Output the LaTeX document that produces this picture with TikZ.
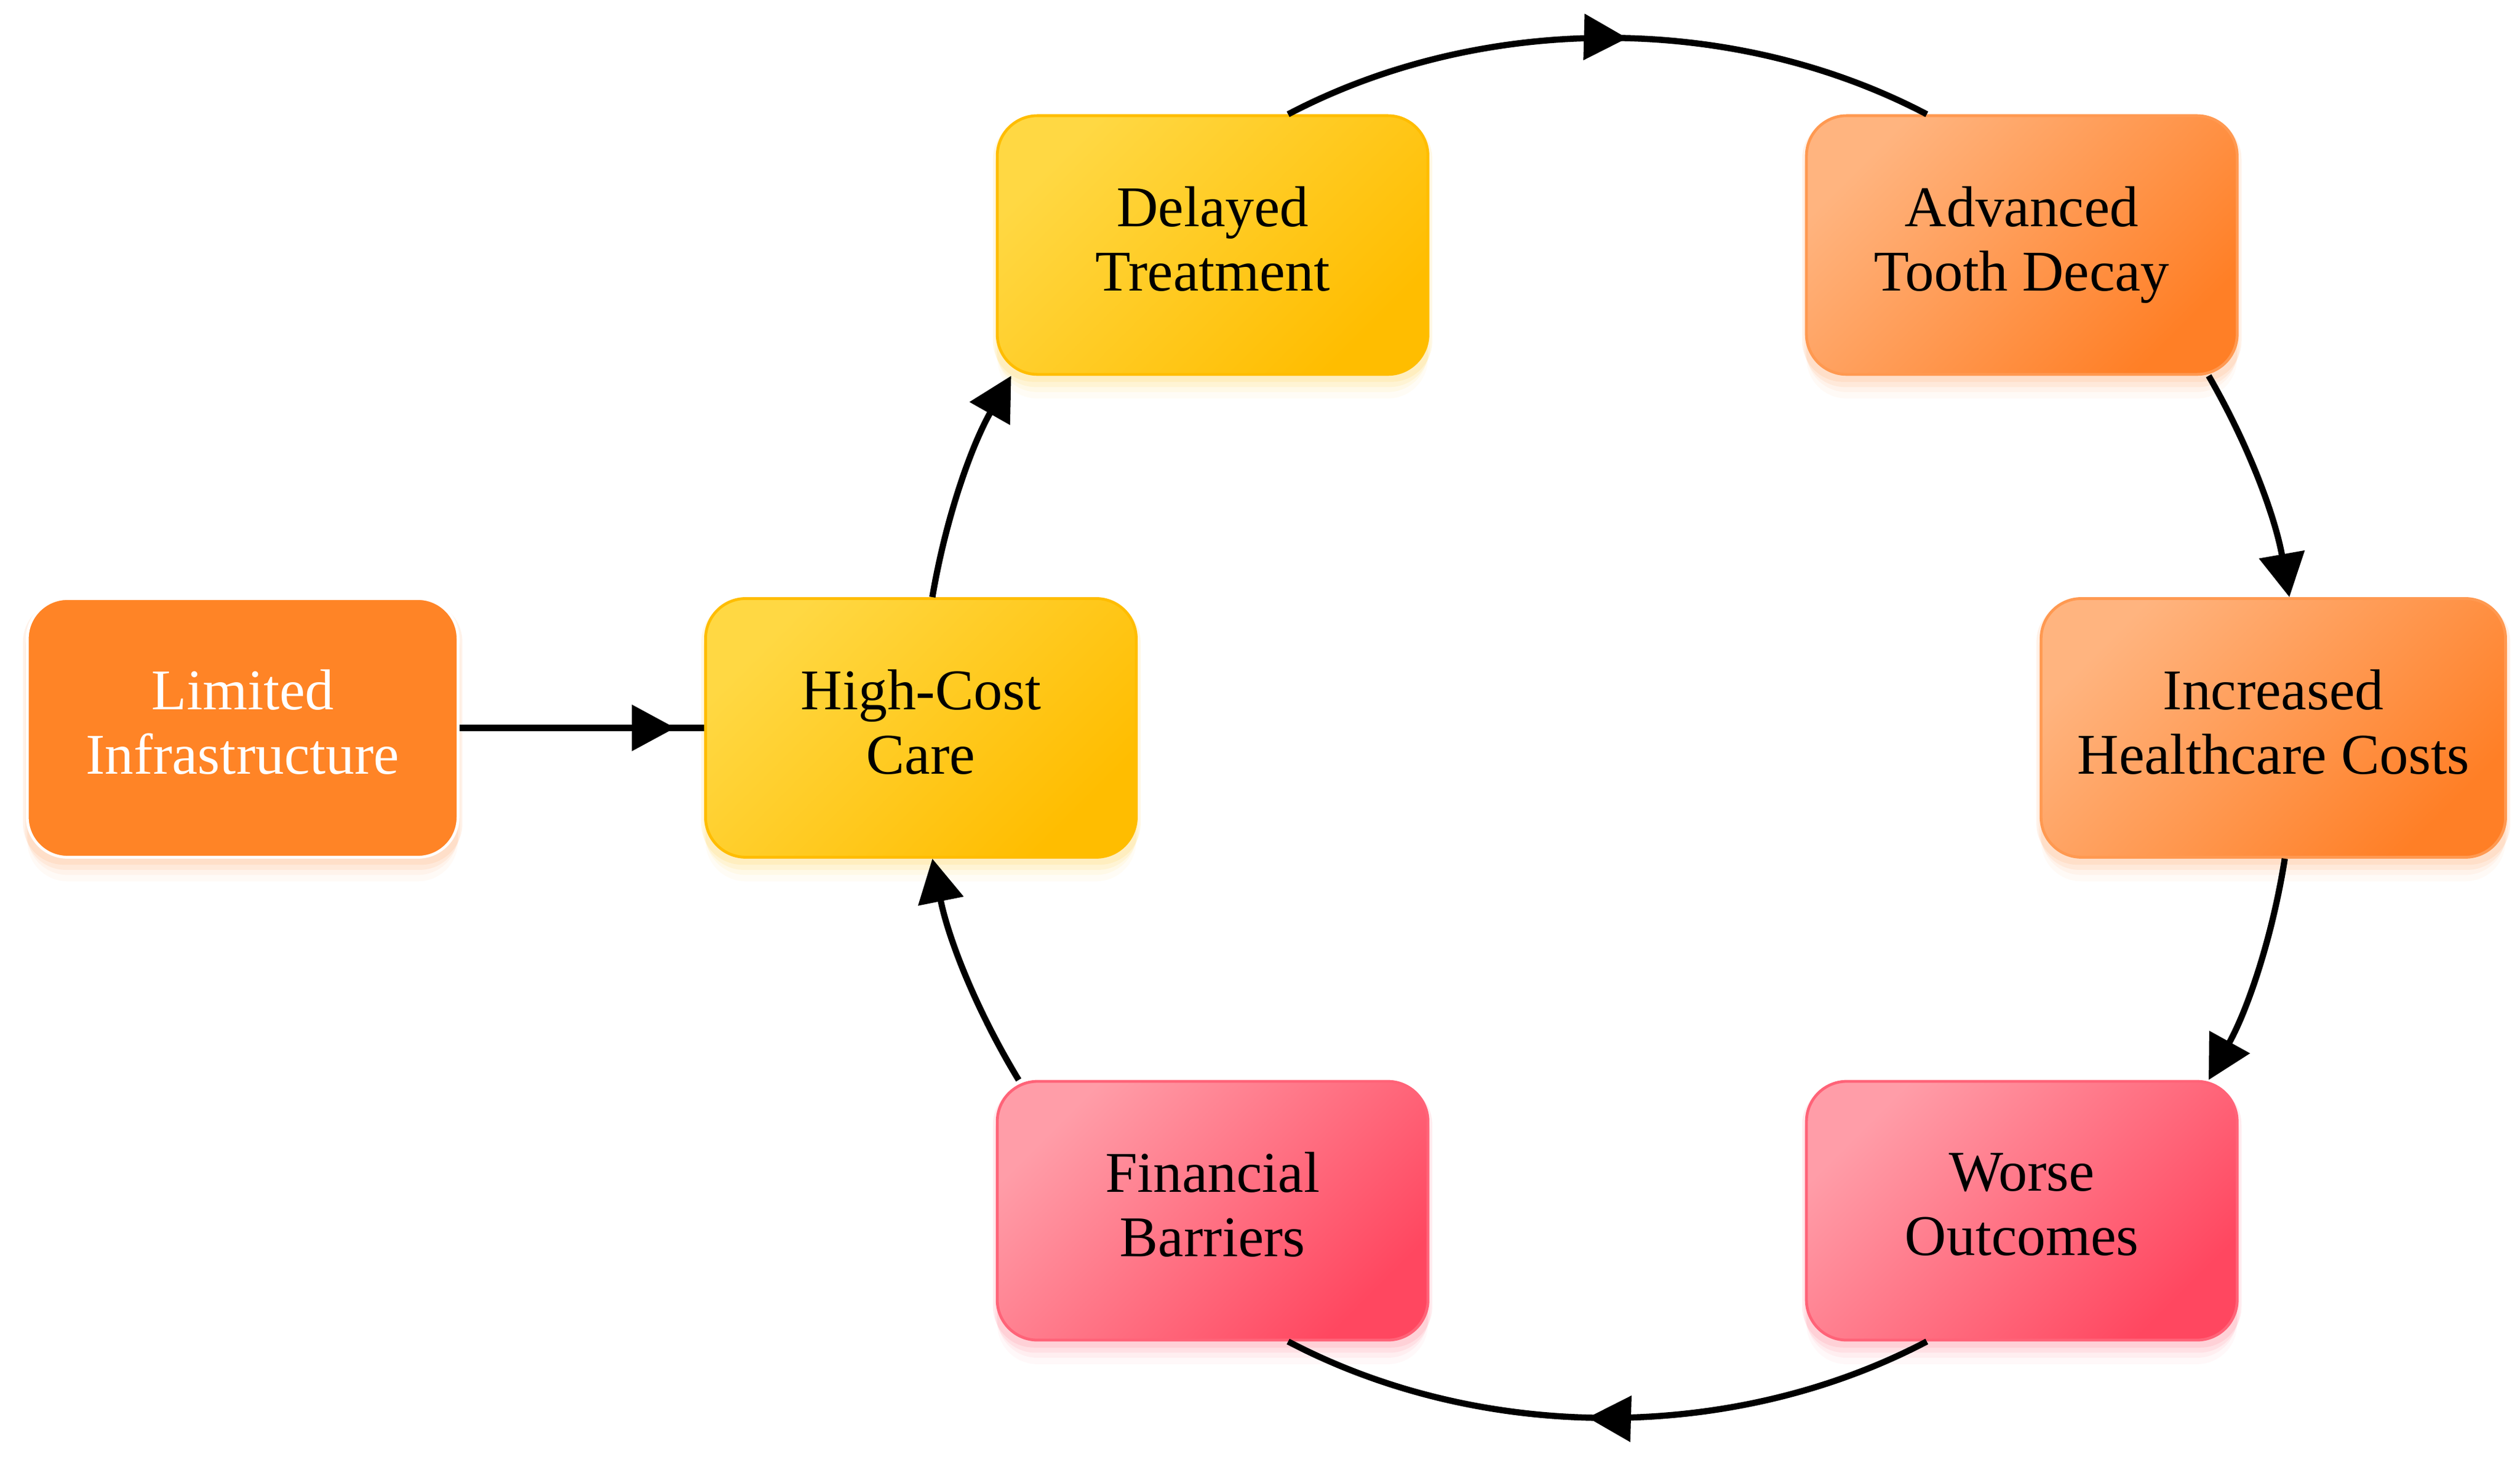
\documentclass[tikz,border=0pt]{standalone}
\usepackage{fontspec}
\setmainfont{Liberation Serif}
\usepackage{xcolor}
\usetikzlibrary{arrows.meta,shadows,decorations.markings}

% Colores de las cajas
\definecolor{naranjaFuerte}{HTML}{FF8426}
\definecolor{ama1}{HTML}{FFD843}
\definecolor{ama2}{HTML}{FFBD00}
\definecolor{nar1}{HTML}{FFB47F}
\definecolor{nar2}{HTML}{FF7F26}
\definecolor{ros1}{HTML}{FF9DA8}
\definecolor{ros2}{HTML}{FF4760}

\tikzset{
  caja/.style={rectangle, rounded corners=0.25cm, minimum width=2.68cm,
    minimum height=1.61cm, align=center, line width=0.5pt,
    font=\fontsize{10.2}{11.4}\selectfont,
    execute at end node={\vphantom{y}}},
  sombra/.style={
    general shadow={fill=#1, opacity=0.10, shadow yshift=-0.03cm, shadow scale=1.02},
    general shadow={fill=#1, opacity=0.08, shadow yshift=-0.07cm, shadow scale=1.01},
    general shadow={fill=#1, opacity=0.06, shadow yshift=-0.11cm},
    general shadow={fill=#1, opacity=0.04, shadow yshift=-0.15cm}},
  cajaLim/.style={caja, sombra=nar2, draw=white, fill=naranjaFuerte, text=white},
  cajaAma/.style={caja, sombra=ama2, draw=ama2, top color=ama1, bottom color=ama2, shading angle=45},
  cajaNar/.style={caja, sombra=nar2, draw=nar2!80, top color=nar1, bottom color=nar2, shading angle=45},
  cajaRos/.style={caja, sombra=ros2, draw=ros2!85, top color=ros1, bottom color=ros2, shading angle=45},
  flecha/.style={line width=1.1pt, -{Triangle[length=0.27cm,width=0.28cm]}},
  arco/.style={line width=1.1pt, looseness=0.88},
  flechaMedio/.style={line width=1.1pt, looseness=0.88, postaction={decorate},
    decoration={markings, mark=at position #1 with {\arrow{Triangle[length=0.27cm,width=0.28cm]}}}}
}

\begin{document}
\begin{tikzpicture}
            \useasboundingbox (0,0) rectangle (15.68,-9.064);

            % Cajas del ciclo
            \node[cajaLim] (lim) at (1.51,-4.53) {Limited\\Infrastructure};
            \node[cajaAma] (high) at (5.73,-4.53) {High-Cost\\Care};
            \node[cajaAma] (del) at (7.545,-1.525) {Delayed\\Treatment};
            \node[cajaNar] (adv) at (12.58,-1.525) {Advanced\\Tooth Decay};
            \node[cajaNar, minimum width=2.89cm] (inc) at (14.145,-4.53) {Increased\\Healthcare Costs};
            \node[cajaRos] (wor) at (12.58,-7.535) {Worse\\Outcomes};
            \node[cajaRos] (fin) at (7.545,-7.535) {Financial\\Barriers};

            % Flecha de entrada
            \draw[flechaMedio=-0.18cm] (lim.east) -- (high.west);

            % Arcos del ciclo
            \draw[flecha, arco] (high.85) to[bend left=10] (del.213);
            \draw[flechaMedio=0.53] (del.60) to[bend left=27.7] (adv.126);
            \draw[flecha, arco] (adv.-35) to[bend left=10] (inc.83);
            \draw[flecha, arco] (inc.-85) to[bend left=10] (wor.35);
            \draw[flechaMedio=0.53] (wor.234) to[bend left=27.7] (fin.-60);
            \draw[flecha, arco] (fin.146) to[bend left=10] (high.-85);
\end{tikzpicture}
\end{document}
